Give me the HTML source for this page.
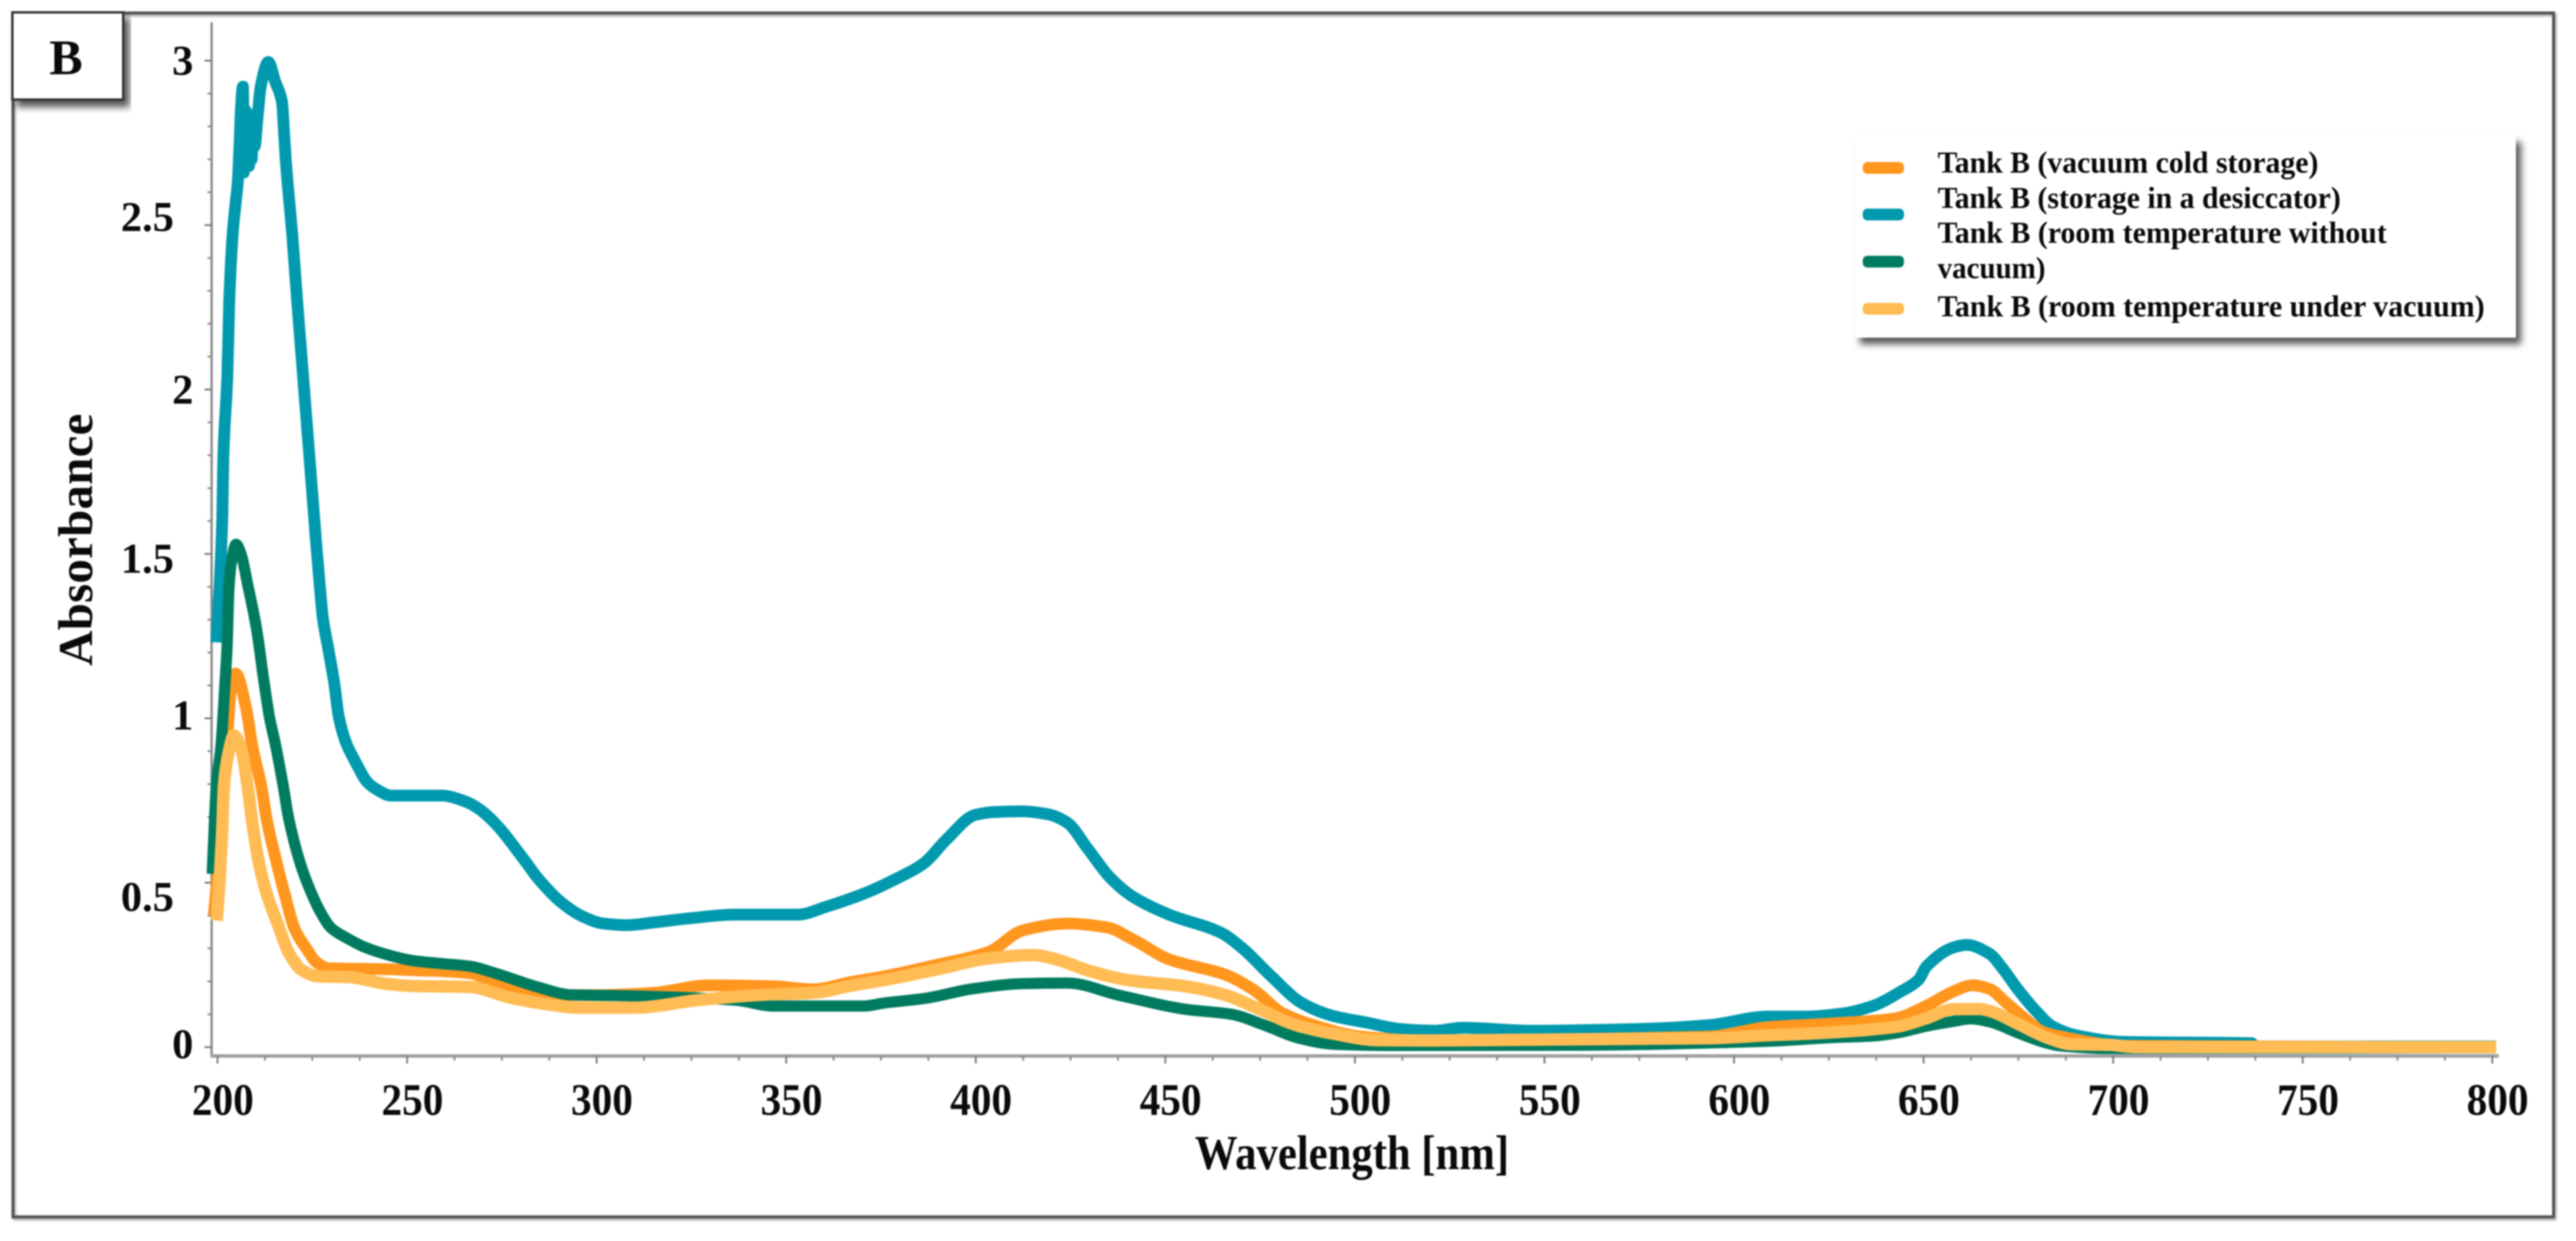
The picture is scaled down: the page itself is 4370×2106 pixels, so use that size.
<!DOCTYPE html>
<html lang="en">
<head>
<meta charset="utf-8">
<title>Tank B absorbance spectra</title>
<style>
  html, body { margin: 0; padding: 0; background: #fff; }
  body { width: 4370px; height: 2106px; overflow: hidden; }
  svg { display: block; filter: blur(1.4px); }
  text { font-family: "Liberation Serif", serif; font-weight: bold; fill: #0a0a0a; }
</style>
</head>
<body>
<svg id="chart" width="4370" height="2106" viewBox="0 0 4370 2106" xmlns="http://www.w3.org/2000/svg">
  <defs>
    <filter id="soft-shadow" x="-5%" y="-5%" width="112%" height="120%">
      <feDropShadow dx="9" dy="11" stdDeviation="6" flood-color="#000" flood-opacity="0.65"/>
    </filter>
    <filter id="frame-shadow" x="-1%" y="-1%" width="102%" height="102%">
      <feDropShadow dx="2" dy="3" stdDeviation="2" flood-color="#000" flood-opacity="0.4"/>
    </filter>
  </defs>

  <rect x="0" y="0" width="4370" height="2106" fill="#ffffff"/>
  <rect x="22" y="22" width="4310" height="2043" fill="none" stroke="#555" stroke-width="5" filter="url(#frame-shadow)"/>

  <g id="axes"></g>
  <g id="series"></g>

  <g>
    <rect x="21" y="21" width="188" height="148" fill="#fff" stroke="#333" stroke-width="4" filter="url(#soft-shadow)"/>
    <text x="112" y="126" font-size="85" text-anchor="middle">B</text>
  </g>

  <g>
    <rect x="3146" y="230" width="1122" height="343" fill="#fff" filter="url(#soft-shadow)"/>
    <rect x="3160" y="275" width="70" height="20" rx="8" fill="#FF961E"/>
    <rect x="3160" y="354" width="70" height="20" rx="8" fill="#0099AE"/>
    <rect x="3160" y="434" width="70" height="20" rx="8" fill="#007B5F"/>
    <rect x="3160" y="514" width="70" height="20" rx="8" fill="#FFBC55"/>
    <text x="3287" y="293" font-size="52" textLength="646" lengthAdjust="spacingAndGlyphs">Tank B (vacuum cold storage)</text>
    <text x="3287" y="353" font-size="52" textLength="684" lengthAdjust="spacingAndGlyphs">Tank B (storage in a desiccator)</text>
    <text x="3287" y="412" font-size="52" textLength="762" lengthAdjust="spacingAndGlyphs">Tank B (room temperature without</text>
    <text x="3287" y="472" font-size="52" textLength="183" lengthAdjust="spacingAndGlyphs">vacuum)</text>
    <text x="3287" y="537" font-size="52" textLength="928" lengthAdjust="spacingAndGlyphs">Tank B (room temperature under vacuum)</text>
  </g>

  <text x="2027" y="1984" font-size="83" textLength="533" lengthAdjust="spacingAndGlyphs">Wavelength [nm]</text>
  <text transform="translate(156,1130) rotate(-90)" font-size="83" textLength="428" lengthAdjust="spacing">Absorbance</text>
</svg>

<script>
// ---- chart data ----
const xTicks = [200, 250, 300, 350, 400, 450, 500, 550, 600, 650, 700, 750, 800];
const xTickLabels = ['200', '250', '300', '350', '400', '450', '500', '550', '600', '650', '700', '750', '800'];
const yTicks = [0, 0.5, 1, 1.5, 2, 2.5, 3];
const yTickLabels = ['0', '0.5', '1', '1.5', '2', '2.5', '3'];

const desiccatorWavelengths = [199.7, 200.5, 201.2, 201.6, 202.6, 203.1, 204, 204.8, 205.3, 205.8, 206.2, 206.7, 206.95, 207.3, 207.6, 207.95, 208.3, 208.65, 209, 209.4, 209.8, 210.5, 211.4, 213.4, 215.2, 217, 217.6, 218.1, 218.9, 219.7, 221, 222, 223, 224, 225, 226, 227.05, 227.8, 229.2, 230.8, 232, 233.9, 236.4, 239.5, 242.1, 245.7, 259.2, 265.4, 269, 273.2, 281.5, 284.4, 290.7, 296.2, 301.7, 307.9, 315.6, 324.6, 336.4, 353, 360.8, 371.2, 379.7, 386.3, 392.4, 399.8, 405, 412.4, 419.1, 424.2, 429.5, 435.4, 441.5, 451, 464.5, 470.4, 477.8, 486, 494.2, 503, 512, 521, 528.4, 546.3, 574.5, 593.5, 609, 618.7, 628.5, 636.8, 643.8, 648.6, 650.8, 657.6, 661.4, 667.4, 670.8, 675, 679.8, 684, 690.2, 702.9, 736.5, 737.5, 801];
const desiccatorValues = [1.231, 1.392, 1.586, 1.814, 2.043, 2.27, 2.473, 2.57, 2.624, 2.74, 2.86, 2.921, 2.66, 2.85, 2.68, 2.84, 2.68, 2.8, 2.7, 2.8, 2.74, 2.82, 2.921, 2.996, 2.937, 2.875, 2.772, 2.683, 2.575, 2.473, 2.27, 2.124, 1.977, 1.83, 1.683, 1.536, 1.392, 1.303, 1.213, 1.106, 1.004, 0.926, 0.867, 0.806, 0.783, 0.765, 0.765, 0.747, 0.724, 0.681, 0.56, 0.515, 0.44, 0.398, 0.376, 0.371, 0.38, 0.392, 0.403, 0.403, 0.428, 0.47, 0.516, 0.559, 0.633, 0.706, 0.715, 0.717, 0.708, 0.682, 0.604, 0.516, 0.457, 0.403, 0.349, 0.3, 0.217, 0.134, 0.095, 0.075, 0.055, 0.05, 0.059, 0.05, 0.055, 0.067, 0.093, 0.093, 0.102, 0.126, 0.168, 0.204, 0.246, 0.302, 0.311, 0.284, 0.24, 0.174, 0.108, 0.063, 0.036, 0.016, 0.012, 0.002, 0.002];

const roomNoVacuumWavelengths = [198.6, 199.7, 200.9, 201.9, 202.5, 203, 203.6, 204.9, 206.2, 207.9, 210.3, 212.1, 213.7, 215.4, 217.3, 218.8, 221.9, 224.6, 227.1, 230, 234.4, 238.6, 244.8, 251.5, 259.2, 266.5, 274, 284.4, 293.4, 308.7, 336.4, 346.8, 370.4, 375.8, 387, 399, 412.4, 424.2, 437.7, 455.4, 467.4, 476.3, 485.3, 494.2, 509, 560, 609, 626, 636.8, 643.8, 650.8, 657.6, 662.5, 667.4, 675, 682, 686, 698, 705, 801];
const roomNoVacuumValues = [0.527, 0.796, 0.914, 1.093, 1.213, 1.392, 1.47, 1.529, 1.5, 1.41, 1.272, 1.124, 1.004, 0.914, 0.796, 0.694, 0.556, 0.473, 0.412, 0.362, 0.33, 0.305, 0.281, 0.263, 0.254, 0.246, 0.222, 0.183, 0.159, 0.156, 0.143, 0.125, 0.125, 0.134, 0.149, 0.177, 0.193, 0.195, 0.158, 0.115, 0.1, 0.066, 0.027, 0.009, 0.005, 0.006, 0.018, 0.029, 0.034, 0.045, 0.064, 0.078, 0.086, 0.077, 0.043, 0.014, 0.004, -0.004, -0.004, -0.002];

const vacuumColdWavelengths = [199, 200.6, 202.3, 203.7, 204.8, 207.5, 209.2, 211.5, 213.1, 215.7, 217.7, 220.4, 223.5, 226.1, 229.2, 244.8, 253.5, 259.2, 267, 271.7, 280.8, 292, 300.3, 315, 329.5, 346.8, 357, 367.6, 375.8, 390, 403.5, 412.4, 424.2, 434.6, 442, 451, 465.9, 473.3, 480.8, 488.2, 501.6, 516.5, 593.5, 609, 623, 642.3, 650.8, 657.6, 662.9, 667.4, 671.5, 677, 681.2, 685.4, 703, 801];
const vacuumColdValues = [0.4, 0.6, 0.889, 1.104, 1.136, 1.034, 0.914, 0.796, 0.685, 0.556, 0.466, 0.358, 0.299, 0.258, 0.24, 0.237, 0.233, 0.231, 0.224, 0.204, 0.174, 0.158, 0.158, 0.165, 0.188, 0.185, 0.176, 0.199, 0.215, 0.251, 0.29, 0.355, 0.376, 0.364, 0.324, 0.267, 0.22, 0.174, 0.104, 0.07, 0.032, 0.021, 0.032, 0.061, 0.07, 0.087, 0.126, 0.168, 0.188, 0.177, 0.138, 0.084, 0.048, 0.034, 0.004, 0];

const roomVacuumWavelengths = [199.8, 200.5, 201.2, 201.7, 203, 204.3, 206.1, 207.9, 209.2, 211, 213, 216, 218.8, 222.4, 226.6, 234.4, 244.8, 251.5, 266.5, 277.4, 287.8, 294.8, 310, 326.7, 343.4, 357, 367.6, 375.8, 390, 403.5, 415.3, 421.2, 430.2, 440.6, 455.4, 465.9, 474.9, 483.7, 494.2, 506.1, 520, 593.5, 609, 623, 642.3, 650.8, 657.6, 664.6, 668, 675, 683, 688.8, 699, 706, 801];
const roomVacuumValues = [0.385, 0.496, 0.645, 0.796, 0.9, 0.948, 0.914, 0.796, 0.681, 0.556, 0.466, 0.371, 0.287, 0.233, 0.215, 0.213, 0.192, 0.186, 0.183, 0.15, 0.129, 0.12, 0.12, 0.143, 0.159, 0.165, 0.188, 0.204, 0.237, 0.27, 0.28, 0.267, 0.231, 0.203, 0.185, 0.158, 0.115, 0.07, 0.041, 0.021, 0.02, 0.027, 0.036, 0.043, 0.061, 0.088, 0.115, 0.116, 0.108, 0.07, 0.027, 0.009, 0.007, 0, 0];

// ---- axis functions ----
const xScale = w => 369 + (w - 200) * (4228 - 369) / 600;
const yScale = v => 1777 - v * 558;

const NS = 'http://www.w3.org/2000/svg';
function make(tag, attrs, parent) {
  const el = document.createElementNS(NS, tag);
  for (const k in attrs) el.setAttribute(k, attrs[k]);
  parent.appendChild(el);
  return el;
}

const axes = document.getElementById('axes');
const seriesGroup = document.getElementById('series');

// axis lines
const yAxisLine = make('line', { x1: 359, y1: 38, x2: 359, y2: 1794, stroke: '#8a8a8a', 'stroke-width': 4 }, axes);


const xAxisLine = make('line', { x1: 357, y1: 1792, x2: 4239, y2: 1792, stroke: '#a0a0a0', 'stroke-width': 6 }, axes);



// x ticks + minor ticks
xTicks.forEach((t, i) => {
  const px = xScale(t);
  const tick = make('line', { x1: px, y1: 1792, x2: px, y2: 1805, stroke: '#7a7a7a', 'stroke-width': 3 }, axes);
  
  
  const label = make('text', { x: px + 9, y: 1892, 'font-size': 76, 'text-anchor': 'middle', textLength: 105, lengthAdjust: 'spacingAndGlyphs' }, axes);
  label.textContent = xTickLabels[i];
  
  
  if (i < xTicks.length - 1) {
    const step = (xTicks[i + 1] - t) / 4;
    for (let m = 1; m < 4; m++) {
      const mx = xScale(t + m * step);
      const minor = make('line', { x1: mx, y1: 1792, x2: mx, y2: 1800, stroke: '#8a8a8a', 'stroke-width': 3 }, axes);
      
      
    }
  }
});

// y ticks + minor ticks
const yLabelNudge = [-5, 24, -5, 8, 0, -14, 0];
yTicks.forEach((t, i) => {
  const py = yScale(t);
  const tick = make('line', { x1: 359, y1: py, x2: 347, y2: py, stroke: '#7a7a7a', 'stroke-width': 3 }, axes);
  
  
  const text = yTickLabels[i];
  const label = make('text', { x: text.length > 1 ? 295 : 328, y: py + yLabelNudge[i] + 24, 'font-size': 72, 'text-anchor': 'end' }, axes);
  label.textContent = text;
  
  
  if (i < yTicks.length - 1) {
    const step = (yTicks[i + 1] - t) / 5;
    for (let m = 1; m < 5; m++) {
      const my = yScale(t + m * step);
      const minor = make('line', { x1: 359, y1: my, x2: 352, y2: my, stroke: '#8a8a8a', 'stroke-width': 3 }, axes);
      
      
    }
  }
});

// series lines: monotone cubic through the sampled points
function smoothPath(wavelengths, values) {
  const xs = wavelengths.map(xScale);
  const ys = values.map(yScale);
  const n = xs.length;
  const secant = [];
  for (let i = 0; i < n - 1; i++) secant.push((ys[i + 1] - ys[i]) / (xs[i + 1] - xs[i]));
  const slope = xs.map((_, i) => {
    if (i === 0) return secant[0];
    if (i === n - 1) return secant[n - 2];
    const a = secant[i - 1], b = secant[i];
    return a * b <= 0 ? 0 : 2 * a * b / (a + b);
  });
  let d = 'M' + xs[0].toFixed(1) + ' ' + ys[0].toFixed(1);
  for (let i = 0; i < n - 1; i++) {
    const h = (xs[i + 1] - xs[i]) / 3;
    d += 'C' + (xs[i] + h).toFixed(1) + ' ' + (ys[i] + slope[i] * h).toFixed(1) + ' '
      + (xs[i + 1] - h).toFixed(1) + ' ' + (ys[i + 1] - slope[i + 1] * h).toFixed(1) + ' '
      + xs[i + 1].toFixed(1) + ' ' + ys[i + 1].toFixed(1);
  }
  return d;
}
function drawSeries(wavelengths, values, color, width) {
  return make('path', { d: smoothPath(wavelengths, values), fill: 'none', stroke: color, 'stroke-width': width, 'stroke-linejoin': 'round', 'stroke-linecap': 'butt' }, seriesGroup);
}
const desiccatorLine = drawSeries(desiccatorWavelengths, desiccatorValues, '#0099AE', 20);


const vacuumColdLine = drawSeries(vacuumColdWavelengths, vacuumColdValues, '#FF961E', 20);


const roomNoVacuumLine = drawSeries(roomNoVacuumWavelengths, roomNoVacuumValues, '#007B5F', 19);


const roomVacuumLine = drawSeries(roomVacuumWavelengths, roomVacuumValues, '#FFBC55', 21);


</script>
</body>
</html>
